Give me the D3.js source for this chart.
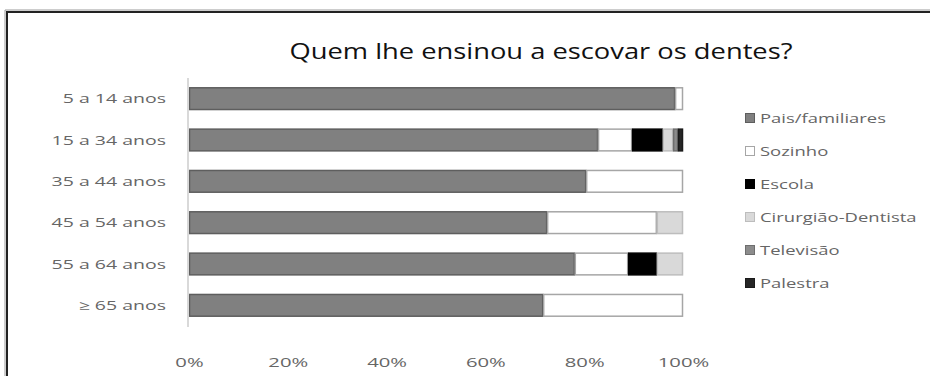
<!DOCTYPE html>
<html>
<head>
<meta charset="utf-8">
<script src="https://cdn.jsdelivr.net/npm/d3@7"></script>
<style>
  html, body { margin: 0; padding: 0; background: #fff; }
  svg { display: block; }
  text { font-family: "Open Sans", "Liberation Sans", sans-serif; }
</style>
</head>
<body>
<div id="chart"></div>
<script>
// Age groups (top to bottom) and the share (%) of each answer per group
const categories = ["5 a 14 anos", "15 a 34 anos", "35 a 44 anos", "45 a 54 anos", "55 a 64 anos", "≥ 65 anos"];
const seriesNames = ["Pais/familiares", "Sozinho", "Escola", "Cirurgião-Dentista", "Televisão", "Palestra"];
const paisFamiliares = [98.4, 82.8, 80.4, 72.5, 78.1, 71.7];
const sozinho        = [1.6, 6.9, 19.6, 22.2, 10.8, 28.3];
const escola         = [0, 6.2, 0, 0, 5.8, 0];
const cirurgiao      = [0, 2.1, 0, 5.3, 5.3, 0];
const televisao      = [0, 1.0, 0, 0, 0, 0];
const palestra       = [0, 1.0, 0, 0, 0, 0];
const tickValues     = [0, 20, 40, 60, 80, 100];
const title = "Quem lhe ensinou a escovar os dentes?";

const seriesValues = [paisFamiliares, sozinho, escola, cirurgiao, televisao, palestra];
const fills   = ["#808080", "#ffffff", "#000000", "#d9d9d9", "#8c8c8c", "#262626"];
const strokes = ["#5e5e5e", "#a6a6a6", "#000000", "#bdbdbd", "#6e6e6e", "#1a1a1a"];

const W = 930, H = 376;
const textColor = "#666666";

const rows = categories.map((c, i) => {
  const r = { cat: c };
  seriesNames.forEach((s, k) => r[s] = seriesValues[k][i]);
  return r;
});

const svg = d3.select("#chart").append("svg")
  .attr("width", W).attr("height", H);

svg.append("rect").attr("width", W).attr("height", H).attr("fill", "#fff");

// chart frame (top and left edges)
svg.append("path").attr("d", `M5,${H}V10H${W}`)
  .attr("fill", "none").attr("stroke", "#9a9a9a").attr("stroke-width", 1);
svg.append("path").attr("d", `M7,${H}V12H${W}`)
  .attr("fill", "none").attr("stroke", "#222").attr("stroke-width", 2);

const x = d3.scaleLinear().domain([0, 100]).range([189, 683]);
const y = d3.scaleBand().domain(categories).range([78, 326])
  .paddingInner(0.45).paddingOuter(0.225);

// title
svg.append("text")
  .attr("x", 541).attr("y", 59)
  .attr("text-anchor", "middle")
  .attr("font-size", 22)
  .attr("fill", "#111")
  .attr("textLength", 503).attr("lengthAdjust", "spacingAndGlyphs")
  .text(title);

// stacked bars
const stack = d3.stack().keys(seriesNames)(rows);
const g = svg.append("g");
stack.forEach((layer, k) => {
  g.selectAll(null).data(layer.filter(d => d[1] - d[0] > 0)).join("rect")
    .attr("x", d => x(d[0]) + 0.5)
    .attr("y", d => y(d.data.cat) + 0.5)
    .attr("width", d => Math.max(0, x(d[1]) - x(d[0]) - 1))
    .attr("height", y.bandwidth() - 1)
    .attr("fill", fills[k])
    .attr("stroke", strokes[k])
    .attr("stroke-width", 1.5);
});

// category axis line
svg.append("line")
  .attr("x1", 188).attr("x2", 188).attr("y1", 78).attr("y2", 327)
  .attr("stroke", "#d9d9d9").attr("stroke-width", 2);

// category labels
const yAxis = svg.append("g").attr("transform", "translate(166,0)")
  .call(d3.axisLeft(y).tickSize(0).tickPadding(0));
yAxis.select(".domain").remove();
yAxis.selectAll("text")
  .attr("x", 0).attr("dy", null)
  .attr("transform", "translate(0,4.5) scale(1.5,1)")
  .attr("font-size", 13).attr("fill", textColor)
  .attr("font-family", '"Open Sans", sans-serif');

// percentage axis
const xAxis = svg.append("g").attr("transform", "translate(0,357)")
  .call(d3.axisBottom(x).tickValues(tickValues).tickFormat(d => d + "%").tickSize(0).tickPadding(0));
xAxis.select(".domain").remove();
xAxis.selectAll("text")
  .attr("y", 0).attr("dy", null)
  .attr("transform", "translate(0,9.5) scale(1.5,1)")
  .attr("font-size", 13.5).attr("fill", textColor)
  .attr("font-family", '"Open Sans", sans-serif');

// legend
const legend = svg.append("g");
seriesNames.forEach((s, k) => {
  const cy = 118 + k * 33;
  legend.append("rect")
    .attr("x", 745.5).attr("y", cy - 4.5).attr("width", 9).attr("height", 9)
    .attr("fill", fills[k]).attr("stroke", strokes[k]).attr("stroke-width", 1);
  legend.append("text")
    .attr("transform", `translate(760,${cy + 4.5}) scale(1.42,1)`)
    .attr("font-size", 13).attr("fill", textColor)
    .text(s);
});
</script>
</body>
</html>
